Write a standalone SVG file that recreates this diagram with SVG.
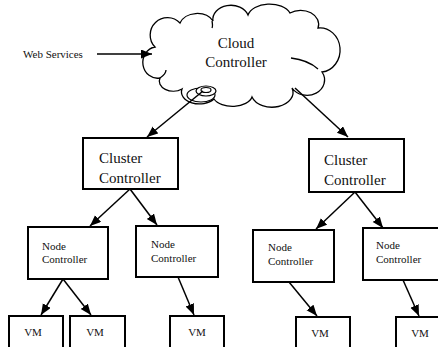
<svg xmlns="http://www.w3.org/2000/svg" width="438" height="347" viewBox="0 0 438 347">
<style>
.box{fill:#fff;stroke:#000;stroke-width:2}
.cloud{fill:#fff;stroke:#000;stroke-width:1.3}
.edge{stroke:#000;stroke-width:1.5;fill:none;marker-end:url(#ah)}
.t{fill:#111}
.big{font-size:15px}
.sm{font-size:11px}
</style>
<defs>
<marker id="ah" markerUnits="userSpaceOnUse" markerWidth="12" markerHeight="10" refX="11" refY="4.5" orient="auto">
<path d="M0,0 L11,4.5 L0,9 z" fill="#000"/>
</marker>
</defs>
<rect width="438" height="347" fill="#fff"/>
<g font-family="'Liberation Serif', 'DejaVu Serif', 'Times New Roman', serif">
<g id="cloud">
<path class="cloud" d="M160,78 A14,15 0 0 1 155,47 A16,16 0 0 1 180,23 A18,14 0 0 1 213,21 A18,14 0 0 1 248,15 A22,14 0 0 1 290,13 A18,14 0 0 1 318,28 A20,22 0 0 1 322,72 A16,14 0 0 1 292,88 A20,14 0 0 1 252,97 A20,12 0 0 1 214,99 A18,12 0 0 1 182,89 A14,10 0 0 1 160,78 Z"/>
<path class="cloud" d="M291,58 Q308,60 318,69" fill="none"/>
<path class="cloud" d="M212,21 Q213,26 212,28" fill="none"/>
<path class="cloud" d="M160,78 Q166,74 166,70" fill="none"/>
<text class="t big" x="236" y="48" text-anchor="middle">Cloud</text>
<text class="t big" x="236" y="67" text-anchor="middle">Controller</text>
</g>
<g id="disk" fill="#fff" stroke="#000" stroke-width="1.2">
<ellipse cx="201" cy="95" rx="14" ry="7"/>
<ellipse cx="206" cy="91" rx="10" ry="5"/>
<ellipse cx="206" cy="90" rx="5" ry="2.5"/>
</g>
<g id="web-services">
<text class="t sm" x="23" y="58">Web Services</text>
</g>
<g id="cluster1">
<rect class="box" x="83" y="138" width="95" height="51"/>
<text class="t big" x="99" y="163">Cluster</text>
<text class="t big" x="99" y="183">Controller</text>
</g>
<g id="cluster2">
<rect class="box" x="309" y="139" width="95" height="53"/>
<text class="t big" x="324" y="165">Cluster</text>
<text class="t big" x="324" y="185">Controller</text>
</g>
<g id="node1">
<rect class="box" x="28" y="227" width="80" height="52"/>
<text class="t sm" x="42" y="250">Node</text>
<text class="t sm" x="42" y="263">Controller</text>
</g>
<g id="node2">
<rect class="box" x="136" y="226" width="82" height="51"/>
<text class="t sm" x="151" y="248">Node</text>
<text class="t sm" x="151" y="262">Controller</text>
</g>
<g id="node3">
<rect class="box" x="253" y="230" width="81" height="52"/>
<text class="t sm" x="268" y="251">Node</text>
<text class="t sm" x="268" y="265">Controller</text>
</g>
<g id="node4">
<rect class="box" x="363" y="228" width="80" height="52"/>
<text class="t sm" x="376" y="249">Node</text>
<text class="t sm" x="376" y="263">Controller</text>
</g>
<g id="vm1">
<rect class="box" x="9" y="316" width="54" height="40"/>
<text class="t sm" x="33" y="336" text-anchor="middle">VM</text>
</g>
<g id="vm2">
<rect class="box" x="70" y="316" width="55" height="40"/>
<text class="t sm" x="95" y="336" text-anchor="middle">VM</text>
</g>
<g id="vm3">
<rect class="box" x="170" y="316" width="54" height="40"/>
<text class="t sm" x="197" y="336" text-anchor="middle">VM</text>
</g>
<g id="vm4">
<rect class="box" x="296" y="317" width="54" height="40"/>
<text class="t sm" x="320" y="337" text-anchor="middle">VM</text>
</g>
<g id="vm5">
<rect class="box" x="396" y="317" width="54" height="40"/>
<text class="t sm" x="420" y="337" text-anchor="middle">VM</text>
</g>
</g>
<g id="connectors">
<line class="edge" x1="97" y1="54" x2="152" y2="54"/>
<line class="edge" x1="203" y1="91" x2="147" y2="137"/>
<line class="edge" x1="295" y1="88" x2="348" y2="137"/>
<line class="edge" x1="130" y1="189" x2="90" y2="226"/>
<line class="edge" x1="130" y1="189" x2="157" y2="225"/>
<line class="edge" x1="355" y1="192" x2="316" y2="229"/>
<line class="edge" x1="355" y1="192" x2="383" y2="228"/>
<line class="edge" x1="63" y1="279" x2="41" y2="315"/>
<line class="edge" x1="63" y1="279" x2="91" y2="315"/>
<line class="edge" x1="178" y1="277" x2="194" y2="315"/>
<line class="edge" x1="289" y1="282" x2="317" y2="316"/>
<line class="edge" x1="403" y1="280" x2="419" y2="316"/>
</g>
</svg>
